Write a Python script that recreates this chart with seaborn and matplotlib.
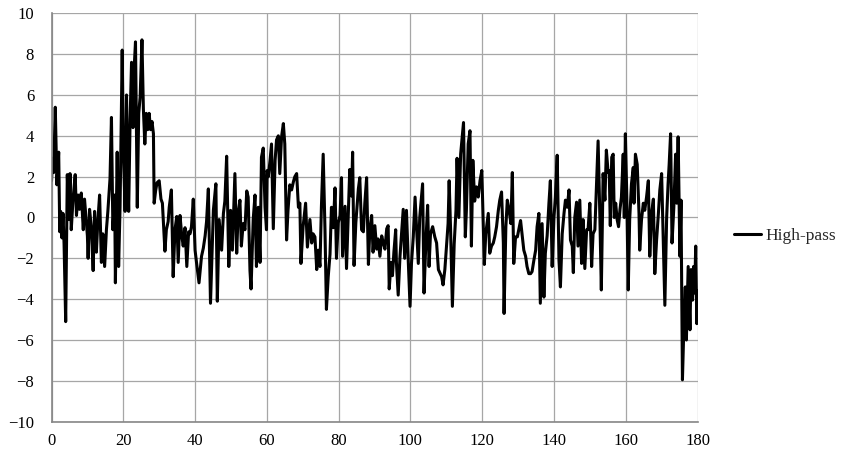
import matplotlib
matplotlib.use("Agg")
import matplotlib.pyplot as plt
from matplotlib.ticker import MultipleLocator
import seaborn as sns
import pandas as pd

# time axis (s) and high-pass filtered signal
time = [
    0.0, 0.3, 0.6, 1.05, 1.5, 2.0, 2.3, 2.55, 2.9, 3.2, 3.5, 3.95, 4.4, 4.8, 5.15, 5.5, 6.0, 6.6, 6.95, 7.4,
    7.8, 8.3, 8.85, 9.2, 9.6, 10.0, 10.2, 10.6, 11.1, 11.6, 12.0, 12.5, 12.9, 13.4, 13.9, 14.3, 14.8, 15.3, 15.7, 16.3,
    16.7, 17.1, 17.6, 17.8, 18.3, 18.7, 19.1, 19.7, 20.0, 20.5, 20.9, 21.2, 21.5, 21.9, 22.3, 22.7, 23.0, 23.4, 23.9, 24.3,
    24.7, 25.2, 25.6, 26.0, 26.4, 26.8, 27.2, 27.6, 28.0, 28.4, 28.6, 29.0, 29.4, 30.0, 30.5, 30.9, 31.6, 32.0, 32.5, 32.8,
    33.4, 33.9, 34.4, 34.9, 35.3, 35.8, 36.3, 36.7, 37.2, 37.7, 38.2, 38.6, 39.0, 39.5, 40.0, 40.4, 41.1, 41.8, 42.3, 42.8,
    43.2, 43.7, 44.3, 45.1, 45.8, 46.2, 46.7, 47.4, 47.9, 48.3, 48.8, 49.4, 49.9, 50.4, 51.1, 51.6, 52.0, 52.5, 52.9, 53.4,
    53.9, 54.4, 54.8, 55.3, 55.6, 56.2, 56.7, 57.1, 57.6, 58.1, 58.5, 59.0, 59.5, 59.9, 60.1, 60.4, 60.9, 61.3, 61.8, 62.3,
    62.7, 63.2, 63.6, 64.1, 64.6, 65.0, 65.5, 65.9, 66.4, 66.9, 67.4, 67.8, 68.3, 68.8, 69.2, 69.5, 70.1, 70.8, 71.3, 72.0,
    72.5, 72.9, 73.4, 73.9, 74.3, 74.8, 75.2, 75.7, 76.2, 76.6, 77.1, 77.6, 78.0, 78.5, 79.0, 79.4, 79.9, 80.4, 80.8, 81.1,
    81.5, 81.8, 82.2, 82.7, 83.1, 83.6, 83.9, 84.3, 84.8, 85.5, 85.9, 86.4, 86.9, 87.3, 87.8, 88.3, 88.7, 89.2, 89.6, 90.1,
    90.6, 91.0, 91.5, 92.0, 92.4, 92.9, 93.4, 93.8, 94.1, 94.6, 95.0, 95.4, 95.9, 96.1, 96.6, 97.1, 97.5, 98.0, 98.4, 98.9,
    99.4, 99.9, 100.3, 100.8, 101.3, 101.7, 102.2, 102.6, 103.4, 103.8, 104.3, 104.8, 105.2, 105.6, 106.2, 106.8, 107.3, 107.8, 108.2, 108.7,
    109.1, 109.6, 110.1, 110.5, 110.8, 111.2, 111.7, 112.2, 112.7, 113.0, 113.5, 114.0, 114.4, 114.8, 115.3, 115.6, 116.1, 116.6, 117.0, 117.4,
    117.9, 118.4, 118.9, 119.4, 119.9, 120.6, 121.0, 121.7, 122.1, 122.6, 123.1, 123.5, 124.0, 124.5, 124.9, 125.4, 125.9, 126.1, 126.6, 127.0,
    127.5, 128.0, 128.4, 128.8, 129.3, 129.8, 130.2, 130.7, 131.2, 131.6, 132.1, 132.5, 133.0, 133.5, 133.9, 134.4, 134.9, 135.3, 135.8, 136.2,
    136.7, 137.2, 137.6, 138.1, 138.6, 139.0, 139.5, 140.0, 140.4, 140.9, 141.4, 141.8, 142.3, 142.8, 143.2, 143.7, 144.2, 144.6, 145.1, 145.4,
    145.8, 146.3, 146.7, 147.2, 147.7, 148.1, 148.6, 149.1, 149.5, 150.0, 150.5, 150.9, 151.4, 151.9, 152.3, 152.8, 153.2, 153.7, 154.2, 154.6,
    155.1, 155.4, 155.7, 156.1, 156.5, 156.8, 157.2, 157.6, 158.0, 158.4, 158.8, 159.3, 159.6, 159.9, 160.3, 160.7, 161.1, 161.6, 162.1, 162.3,
    162.7, 163.2, 163.7, 163.9, 164.4, 164.9, 165.3, 165.8, 166.3, 166.7, 167.2, 167.7, 168.1, 168.6, 169.1, 169.5, 170.0, 170.4, 170.9, 171.4,
    171.8, 172.1, 172.5, 172.9, 173.4, 173.9, 174.2, 174.6, 175.1, 175.4, 175.8, 176.2, 176.6, 176.9, 177.4, 177.9, 178.2, 178.6, 178.9, 179.2,
    179.5, 179.8, 180.0,
]
high_pass = [
    1.8, 2.9, 2.2, 5.4, 1.6, 3.2, -0.7, 0.3, -1.0, 0.2, -1.3, -5.1, 2.1, -0.1, 2.15, -0.6, 0.9, 2.1, 0.1, 1.1,
    0.4, 1.2, -0.6, 0.9, 0.0, -0.9, -2.0, 0.4, -0.5, -2.6, 0.3, -1.7, -0.2, 1.1, -2.2, -0.8, -2.4, -0.6, 0.3, 1.9,
    4.9, -0.6, 1.1, -3.2, 3.2, -2.4, 0.5, 8.2, 3.5, 0.3, 6.0, 2.5, 0.3, 4.8, 7.6, 4.4, 7.2, 8.6, 0.5, 5.1,
    5.9, 8.7, 5.3, 3.6, 5.1, 4.3, 5.1, 4.3, 4.7, 4.1, 0.7, 1.3, 1.7, 1.8, 0.9, 0.7, -1.65, -0.6, -0.2, 0.5,
    1.35, -2.9, -0.6, 0.05, -2.2, 0.1, -0.9, -1.4, -0.5, -2.4, -0.7, -0.8, -0.45, 0.9, -1.6, -2.2, -3.2, -1.9, -1.5, -0.9,
    -0.2, 1.4, -4.2, 0.35, 1.65, -4.1, -0.1, -1.6, 0.2, 0.8, 3.0, -2.4, 0.35, -1.6, 2.15, -1.75, 0.2, 0.85, -1.4, -0.3,
    -0.6, 1.3, 1.0, -2.6, -3.5, -0.1, 1.1, -2.4, 0.5, -2.2, 2.95, 3.4, 0.5, -0.6, 2.3, 2.0, 2.8, 3.6, -0.55, 2.8,
    3.8, 4.0, 2.15, 3.95, 4.6, 3.6, -1.1, 0.35, 1.6, 1.35, 1.75, 2.0, 2.15, 0.5, 0.7, -2.25, -0.45, 0.7, -1.45, -0.1,
    -1.25, -0.8, -0.95, -2.55, -1.6, -2.4, 0.5, 3.1, -0.6, -4.5, -2.9, -1.8, 0.5, -0.5, 1.45, -2.0, -0.25, 0.1, 1.95, -1.9,
    -0.5, 0.55, -2.5, 0.25, 2.35, 1.05, 3.2, -2.35, -0.25, 1.4, 1.95, -0.6, -0.7, 0.7, 1.95, -2.3, -0.6, 0.1, -1.7, -0.4,
    -1.55, -1.05, -1.9, -0.9, -1.2, -1.55, -0.55, -0.4, -3.5, -2.2, -2.85, -1.7, -0.6, -2.2, -3.8, -1.9, -0.9, 0.4, -2.0, 0.35,
    -2.1, -4.35, -2.25, -0.95, 1.0, -0.45, -2.25, 0.0, 1.65, -3.7, -1.25, 0.6, -2.4, -0.8, -0.45, -0.95, -1.25, -2.55, -2.7, -2.9,
    -3.3, -2.55, -1.3, -0.3, 1.8, -0.6, -4.35, -1.3, 0.35, 2.9, 0.0, 3.1, 3.9, 4.65, -0.95, 0.35, 3.6, 4.25, -1.4, 2.8,
    0.8, 1.5, 1.0, 1.8, 2.3, -2.3, -0.8, 0.2, -1.75, -1.4, -1.25, -0.95, -0.45, 0.35, 0.85, 1.25, -1.25, -4.7, -0.45, 0.85,
    0.35, -0.3, 2.2, -2.25, -0.95, -0.95, -0.6, -0.15, -0.95, -1.6, -1.9, -2.4, -2.75, -2.75, -2.65, -2.1, -1.6, -0.45, 0.2, -4.2,
    -0.3, -3.9, -1.75, -0.9, 0.7, 1.8, -2.4, 0.0, 1.0, 3.05, -2.1, -3.4, -0.8, 0.2, 0.85, 0.5, 1.35, -1.1, -1.4, -2.7,
    0.0, 0.75, -1.4, 0.85, -2.25, -0.1, -2.5, -0.6, -0.6, 0.7, -2.4, -0.8, -0.6, 1.8, 3.75, 0.0, -3.55, 2.15, 0.85, 3.3,
    2.2, 2.3, -0.4, 2.95, 3.1, 0.0, 0.7, -0.1, -0.45, 0.4, 1.0, 3.1, 0.0, 4.1, 1.0, -3.55, -0.1, 1.65, 2.45, 0.7,
    3.1, 2.6, 0.2, -1.6, -0.1, 0.7, 0.35, 1.0, 1.8, -1.9, 0.2, 0.9, -2.75, -1.1, 0.2, 1.35, 2.15, -0.8, -4.3, 0.0,
    1.65, 2.6, 4.1, -1.25, 0.5, 3.1, 0.7, 3.95, -1.9, 0.85, -7.95, -5.35, -3.4, -6.0, -2.4, -5.5, -2.55, -4.05, -2.4, -3.7,
    -1.4, -5.2, -3.6,
]

df = pd.DataFrame({"time": time, "value": high_pass, "series": "High-pass"})

sns.set_style("white")
plt.rcParams["font.family"] = ["Liberation Serif", "DejaVu Serif"]

fig = plt.figure(figsize=(8.5, 4.7), dpi=100)
ax = fig.add_axes([0.0606, 0.1028, 0.76, 0.8689])

sns.lineplot(data=df, x="time", y="value", hue="series", palette=["black"],
             estimator=None, sort=False, linewidth=2.2, ax=ax, legend=False)

ax.set(xlim=(0, 180), ylim=(-10, 10), xlabel="", ylabel="")
ax.xaxis.set_major_locator(MultipleLocator(20))
ax.xaxis.set_minor_locator(MultipleLocator(4))
ax.yaxis.set_major_locator(MultipleLocator(2))
ax.yaxis.set_minor_locator(MultipleLocator(0.4))
ax.grid(True, which="major", color="#a6a6a6", linewidth=0.9)
ax.set_axisbelow(True)

for spine in ("top", "right"):
    ax.spines[spine].set_visible(False)
for spine in ("left", "bottom"):
    ax.spines[spine].set_color("#868686")
    ax.spines[spine].set_linewidth(1.2)

ax.tick_params(which="major", direction="out", length=4, width=1, color="#868686",
               labelsize=12, labelcolor="black")
ax.tick_params(which="minor", direction="in", length=3, width=0.8, color="#868686")
ax.tick_params(axis="y", which="major", pad=8.5)
ax.tick_params(axis="x", which="major", pad=4)

handle = plt.Line2D([], [], color="black", linewidth=2.2)
fig.legend([handle], ["High-pass"], loc="center left", bbox_to_anchor=(0.864, 0.497),
           frameon=False, fontsize=12.5, handlelength=1.55, handletextpad=0.25,
           borderpad=0, borderaxespad=0)

fig.savefig("out.png", dpi=100, facecolor="white")
